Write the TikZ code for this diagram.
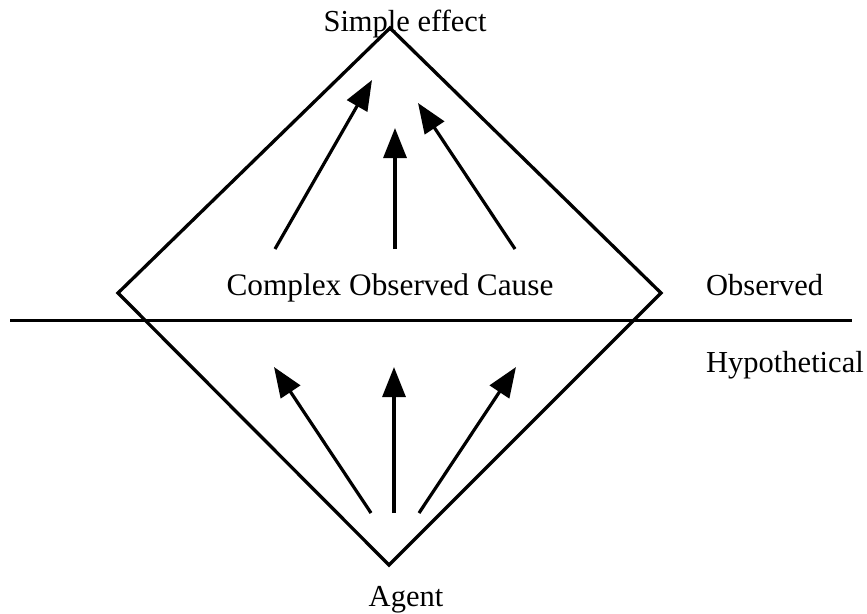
\documentclass[tikz,border=0pt]{standalone}
\usepackage{fontspec}
\setmainfont{Liberation Serif}
\usetikzlibrary{arrows.meta}
\begin{document}
\begin{tikzpicture}[x=1pt,y=-1pt,
  lbl/.style={anchor=base,inner sep=0pt,font=\fontsize{30.5}{36}\selectfont},
  lbll/.style={anchor=base west,inner sep=0pt,font=\fontsize{30.5}{36}\selectfont},
  edge/.style={line width=3.3pt},
  arr/.style={line width=3.2pt,-{Triangle[length=30pt,width=23pt]}},
  sep/.style={line width=3pt}]
\useasboundingbox (0,0) rectangle (867,613);
% diamond corners
\coordinate (T) at (390,28);
\coordinate (L) at (118,293);
\coordinate (R) at (661,293);
\coordinate (B) at (389,565);
\draw[edge,line join=miter] (T) -- (R) -- (B) -- (L) -- cycle;
% separator
\coordinate (s1) at (10,320);
\coordinate (s2) at (852,320);
\draw[sep] (s1) -- (s2);
% labels
\node[lbl] (simple) at (405,31) {Simple effect};
\node[lbl,font=\fontsize{31.3}{36}\selectfont] (cause) at (390,295) {Complex Observed Cause};
\node[lbll] (obs) at (706,295) {Observed};
\node[lbll] (hyp) at (706,372) {Hypothetical};
\node[lbl] (agent) at (406,606) {Agent};
% upper arrows
\coordinate (ua1) at (275,249); \coordinate (ub1) at (372,80);
\coordinate (ua2) at (395,249); \coordinate (ub2) at (395,128);
\coordinate (ua3) at (515,249); \coordinate (ub3) at (418,103);
\draw[arr] (ua1) -- (ub1);
\draw[arr] (ua2) -- (ub2);
\draw[arr] (ua3) -- (ub3);
% lower arrows
\coordinate (la1) at (371,513); \coordinate (lb1) at (274,367);
\coordinate (la2) at (394,513); \coordinate (lb2) at (394,367);
\coordinate (la3) at (419,513); \coordinate (lb3) at (516,367);
\draw[arr] (la1) -- (lb1);
\draw[arr] (la2) -- (lb2);
\draw[arr] (la3) -- (lb3);
\end{tikzpicture}
\end{document}
